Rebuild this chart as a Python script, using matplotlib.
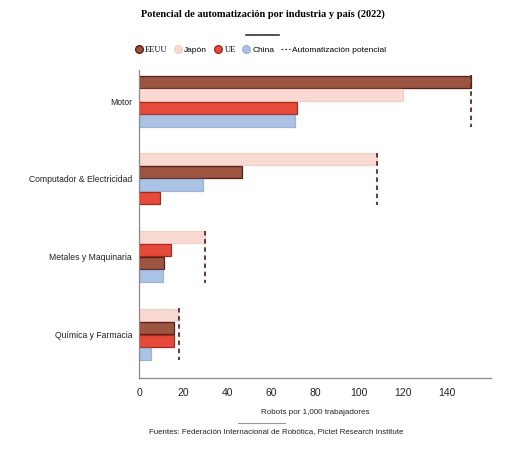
import matplotlib
matplotlib.use("Agg")
import matplotlib.pyplot as plt
from matplotlib.lines import Line2D
import numpy as np

# ── data ──────────────────────────────────────────────
industries = ["Motor", "Computador & Electricidad", "Metales y Maquinaria", "Química y Farmacia"]
countries = ["EEUU", "Japón", "UE", "China"]
eeuu = [151, 47, 11.5, 16]
japon = [120, 108, 30, 17.5]
ue = [72, 9.5, 14.5, 16]
china = [71, 29, 11, 5.5]
potential = [151, 108, 30, 18]
x_ticks = [0, 20, 40, 60, 80, 100, 120, 140]

# ── styles ────────────────────────────────────────────
face = {"EEUU": "#9b5540", "Japón": "#f9dad2", "UE": "#e64a3a", "China": "#aac2e4"}
edge = {"EEUU": "#5a1e18", "Japón": "#f3d0c7", "UE": "#a8281c", "China": "#9db3d6"}
dash_color = "#5a2a28"
plt.rcParams["font.family"] = ["Liberation Sans", "DejaVu Sans"]

W, H = 532, 450
fig = plt.figure(figsize=(W / 100, H / 100), dpi=100)
ax = fig.add_axes([139 / W, 1 - 378 / H, 352 / W, 308 / H])

values = {"EEUU": eeuu, "Japón": japon, "UE": ue, "China": china}
step = 0.167
height = 0.155
for i, ind in enumerate(industries):
    # bars sorted descending within each group, largest on top
    order = sorted(countries, key=lambda c: -values[c][i])
    for k, c in enumerate(order):
        y = i + (k - 1.5) * step
        ax.barh(y, values[c][i], height=height, color=face[c], edgecolor=edge[c], linewidth=0.9)
    ax.vlines(potential[i], i - 2 * step, i + 2 * step, colors=dash_color,
              linestyles=(0, (2.5, 2)), linewidth=1.3)

ax.set_xlim(0, 160)
ax.set_ylim(3.56, -0.40)
ax.set_xticks(x_ticks)
ax.set_yticks(range(len(industries)))
ax.set_yticklabels(industries)
ax.tick_params(axis="x", length=0, pad=7, labelsize=7.5, colors="#222222")
ax.tick_params(axis="y", length=0, pad=5, labelsize=6.2, colors="#222222")
for s in ["top", "right"]:
    ax.spines[s].set_visible(False)
for s in ["left", "bottom"]:
    ax.spines[s].set_color("#8a8a8a")
    ax.spines[s].set_linewidth(0.9)

ax.set_xlabel("Robots por 1,000 trabajadores", fontsize=5.8, labelpad=8, color="#222222")

# ── title, rules, source ──────────────────────────────
fig.text(263 / W, 1 - 14 / H, "Potencial de automatización por industria y país (2022)",
         ha="center", va="center", fontsize=7.5, fontweight="bold", family="Liberation Serif")
fig.add_artist(Line2D([246 / W, 279 / W], [1 - 35 / H] * 2, color="#333333", lw=1.2))
fig.add_artist(Line2D([238 / W, 285 / W], [1 - 423 / H] * 2, color="#999999", lw=0.8))
fig.text(149 / W, 1 - 432 / H, "Fuentes: Federación Internacional de Robótica, Pictet Research Institute",
         ha="left", va="center", fontsize=5.7, color="#222222")

# ── legend ────────────────────────────────────────────
handles = [Line2D([], [], marker="o", ls="none", markersize=5.5,
                  markerfacecolor=face[c], markeredgecolor=edge[c]) for c in countries]
handles.append(Line2D([], [], color=dash_color, ls=(0, (1.5, 1.5)), lw=0.9))
labels = countries + ["Automatización potencial"]
leg = fig.legend(handles, labels, loc="center left", bbox_to_anchor=(131 / W, 1 - 50 / H),
                 ncol=5, frameon=False, fontsize=6.0, handlelength=1.0,
                 handletextpad=0.25, columnspacing=0.8, borderaxespad=0)
for t in leg.get_texts():
    if t.get_text() in ("EEUU", "UE"):
        t.set_family("Liberation Serif")

fig.savefig("out.png", dpi=100)
